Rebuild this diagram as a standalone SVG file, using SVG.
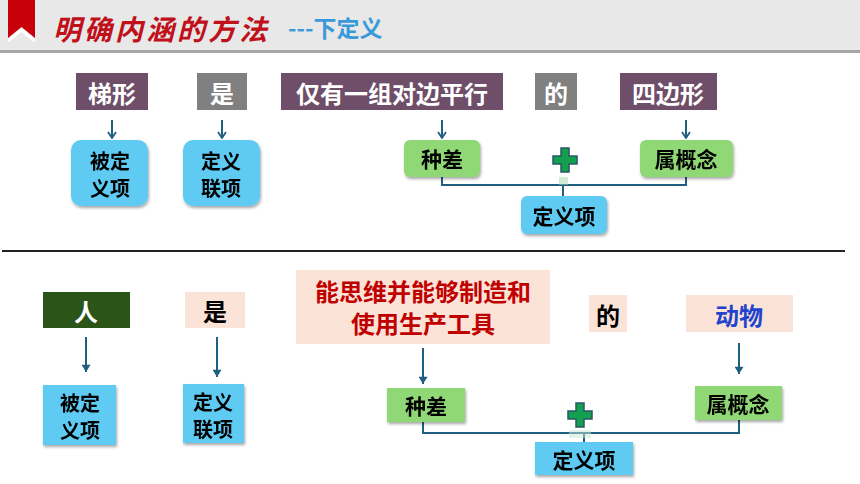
<svg xmlns="http://www.w3.org/2000/svg" width="860" height="484" viewBox="0 0 860 484">
<defs>
<filter id="sh" x="-20%" y="-20%" width="140%" height="150%">
<feDropShadow dx="1" dy="2" stdDeviation="1.5" flood-color="#000" flood-opacity="0.35"/>
</filter>
<marker id="ah" viewBox="0 0 10 10" refX="9" refY="5" markerWidth="10" markerHeight="10" markerUnits="userSpaceOnUse" orient="auto">
<path d="M3,1 L9,5 L3,9" fill="none" stroke="#1f5f80" stroke-width="1.8"/>
</marker>
<marker id="at" viewBox="0 0 10 10" refX="10" refY="5" markerWidth="9" markerHeight="9" markerUnits="userSpaceOnUse" orient="auto">
<path d="M2,0 L10,5 L2,10 Z" fill="#1f5f80"/>
</marker>
</defs>
<style>
.t{font-family:"Noto Sans CJK SC","Noto Sans",sans-serif;font-weight:bold;text-anchor:middle;dominant-baseline:central}
.w{fill:#fff;font-size:24px}
.k{fill:#000}
.purple{fill:#6f4e69}
.gray{fill:#808080}
.blue{fill:#5ecbf3}
.green{fill:#8fd874}
.peach{fill:#fbe3d8}
.conn{fill:none;stroke:#1f5f80;stroke-width:2}
.plus{fill:#12a04e;stroke:#2a5568;stroke-width:1.5}
</style>
<rect width="860" height="484" fill="#fff"/>
<g id="header">
<rect x="0" y="0" width="860" height="50" fill="#e8e8e8"/>
<rect x="0" y="50" width="860" height="3" fill="#a6a6a6"/>
<polygon points="8,0 35,0 35,38 21.5,27 8,38" fill="#c8000a"/>
<polyline points="8,41 21.5,30 35,41" fill="none" stroke="#fff" stroke-width="3"/>
<text x="53" y="28" font-family="'Noto Sans CJK SC',sans-serif" font-weight="bold" font-style="italic" font-size="28" letter-spacing="3" fill="#c0101a" dominant-baseline="central">明确内涵的方法</text>
<text x="288" y="27" font-family="'Noto Sans CJK SC','Liberation Sans',sans-serif" font-weight="bold" font-size="23" fill="#3a9ad9" dominant-baseline="central">---下定义</text>
</g>
<line x1="2" y1="251" x2="845" y2="251" stroke="#222" stroke-width="2.2"/>
<g id="connectors">
<line class="conn" x1="112" y1="120" x2="112" y2="138" marker-end="url(#ah)"/>
<line class="conn" x1="222" y1="120" x2="222" y2="138" marker-end="url(#ah)"/>
<line class="conn" x1="442" y1="120" x2="442" y2="138" marker-end="url(#ah)"/>
<line class="conn" x1="686" y1="120" x2="686" y2="138" marker-end="url(#ah)"/>
<polyline class="conn" points="442,177 442,185 686,185 686,177"/>
<line class="conn" x1="563" y1="185" x2="563" y2="196"/>
<line class="conn" x1="86" y1="337" x2="86" y2="372" marker-end="url(#at)"/>
<line class="conn" x1="217" y1="337" x2="217" y2="377" marker-end="url(#at)"/>
<line class="conn" x1="423" y1="348" x2="423" y2="384" marker-end="url(#at)"/>
<line class="conn" x1="739" y1="343" x2="739" y2="374" marker-end="url(#at)"/>
<polyline class="conn" points="423,422 423,433 739,433 739,420"/>
<line class="conn" x1="584" y1="433" x2="584" y2="442"/>
</g>
<g id="n-tixing"><rect class="purple" x="76" y="73" width="72" height="37"/><text class="t w" x="112" y="92">梯形</text></g>
<g id="n-shi1"><rect class="gray" x="197" y="73" width="50" height="37"/><text class="t w" x="222" y="92">是</text></g>
<g id="n-jinyou"><rect class="purple" x="281" y="73" width="222" height="37"/><text class="t w" x="392" y="92">仅有一组对边平行</text></g>
<g id="n-de1"><rect class="gray" x="535" y="73" width="42" height="37"/><text class="t w" x="556" y="92">的</text></g>
<g id="n-sibianxing"><rect class="purple" x="620" y="73" width="97" height="37"/><text class="t w" x="668" y="92">四边形</text></g>
<g id="n-bdyx1" filter="url(#sh)"><rect class="blue" x="71" y="140" width="77" height="66" rx="10"/><text class="t k" x="110" y="160" font-size="20">被定</text><text class="t k" x="110" y="187" font-size="20">义项</text></g>
<g id="n-dylx1" filter="url(#sh)"><rect class="blue" x="183" y="140" width="77" height="66" rx="10"/><text class="t k" x="221" y="160" font-size="20">定义</text><text class="t k" x="221" y="187" font-size="20">联项</text></g>
<g id="n-zhongcha1" filter="url(#sh)"><rect class="green" x="404" y="140" width="76" height="37" rx="6"/><text class="t k" x="442" y="158" font-size="21">种差</text></g>
<g id="n-shugainian1" filter="url(#sh)"><rect class="green" x="640" y="140" width="93" height="37" rx="6"/><text class="t k" x="686" y="158" font-size="21">属概念</text></g>
<g id="plus1"><path class="plus" d="M561,148 h8 v8 h8 v8 h-8 v8 h-8 v-8 h-8 v-8 h8 z"/><rect x="559" y="177" width="9" height="8" fill="#9fd8a8" opacity="0.5"/></g>
<g id="n-dyx1" filter="url(#sh)"><rect class="blue" x="521" y="196" width="86" height="38" rx="6"/><text class="t k" x="564" y="215" font-size="21">定义项</text></g>
<g id="n-ren"><rect fill="#2a5418" x="43" y="292" width="87" height="36"/><text class="t w" x="86" y="310">人</text></g>
<g id="n-shi2"><rect class="peach" x="185" y="292" width="60" height="36"/><text class="t k" x="215" y="310" font-size="24">是</text></g>
<g id="n-nengsiwei"><rect class="peach" x="296" y="270" width="254" height="74"/><text class="t" x="423" y="290" font-size="24" fill="#c00000">能思维并能够制造和</text><text class="t" x="423" y="322" font-size="24" fill="#c00000">使用生产工具</text></g>
<g id="n-de2"><rect class="peach" x="589" y="295" width="38" height="37"/><text class="t k" x="608" y="314" font-size="24">的</text></g>
<g id="n-dongwu"><rect class="peach" x="686" y="295" width="107" height="37"/><text class="t" x="739" y="314" font-size="24" fill="#2244cc">动物</text></g>
<g id="n-bdyx2" filter="url(#sh)"><rect class="blue" x="43" y="385" width="73" height="60"/><text class="t k" x="80" y="402" font-size="20">被定</text><text class="t k" x="80" y="429" font-size="20">义项</text></g>
<g id="n-dylx2" filter="url(#sh)"><rect class="blue" x="183" y="384" width="61" height="59"/><text class="t k" x="213" y="401" font-size="20">定义</text><text class="t k" x="213" y="428" font-size="20">联项</text></g>
<g id="n-zhongcha2" filter="url(#sh)"><rect class="green" x="387" y="388" width="78" height="34"/><text class="t k" x="426" y="405" font-size="21">种差</text></g>
<g id="n-shugainian2" filter="url(#sh)"><rect class="green" x="695" y="386" width="87" height="34"/><text class="t k" x="738" y="403" font-size="21">属概念</text></g>
<g id="plus2"><path class="plus" d="M576,403 h8 v8 h8 v8 h-8 v8 h-8 v-8 h-8 v-8 h8 z"/><rect x="569" y="430" width="22" height="8" fill="#c8e8d0" opacity="0.5"/></g>
<g id="n-dyx2" filter="url(#sh)"><rect class="blue" x="535" y="442" width="98" height="33"/><text class="t k" x="584" y="459" font-size="21">定义项</text></g>
</svg>
